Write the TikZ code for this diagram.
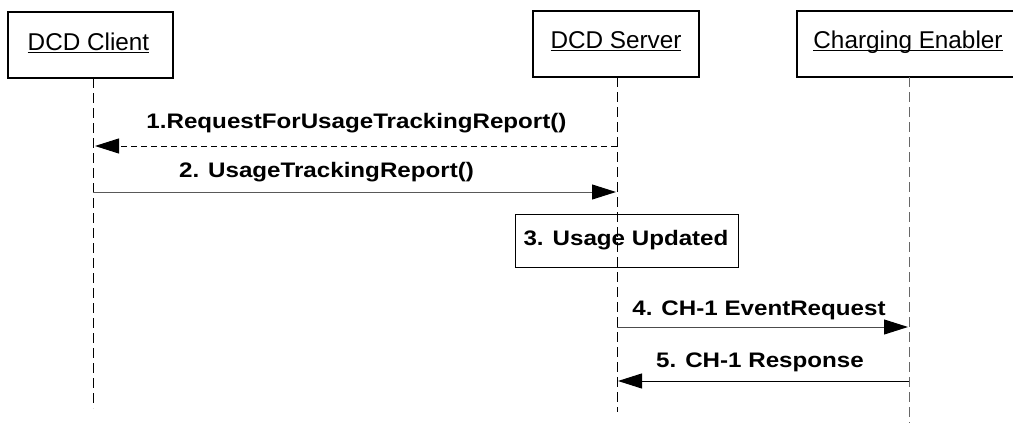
\documentclass[tikz,border=0pt]{standalone}
\usepackage{fontspec}
\setmainfont{Liberation Sans}
\newfontfamily\lblfont[FakeStretch=1.15]{Liberation Sans}
\usetikzlibrary{arrows.meta}
\newcommand\hdrul[1]{\setbox0\hbox{#1}\rlap{\rule[-3pt]{\wd0}{1.3pt}}\box0}
\tikzset{
  hdrbox/.style={draw, line width=1.5pt, minimum width=#1, minimum height=66pt, inner sep=0pt},
  hdrtxt/.style={anchor=base, inner sep=0pt, font=\fontsize{24.3}{28}\selectfont},
  lifeline/.style={draw, line width=1pt, dash pattern=on 10pt off 5pt},
  msg/.style={draw, line width=1pt, -{Triangle[length=24pt,width=15pt,color=black]}},
  dmsg/.style={msg, dash pattern=on 6pt off 4pt},
  lbl/.style={anchor=base, inner sep=0pt, font=\lblfont\bfseries\fontsize{21}{25}\selectfont},
  actbox/.style={draw, line width=1pt, minimum width=223pt, minimum height=53pt, inner sep=0pt}
}
\begin{document}
\begin{tikzpicture}[x=1pt,y=-1pt]
\clip (0,0) rectangle (1013,423);
\fill[white] (0,0) rectangle (1013,423);
% headers
\node[hdrbox=165pt] (cbox) at (90.5,45) {};
\node[hdrbox=166pt] (sbox) at (616,44) {};
\node[hdrbox=224pt] (ebox) at (909,44) {};
\node[hdrtxt] (ctxt) at (88.5,50) {\hdrul{DCD Client}};
\node[hdrtxt] (stxt) at (616,48) {\hdrul{DCD Server}};
\node[hdrtxt] (etxt) at (908,48) {\hdrul{Charging Enabler}};
% lifeline ends
\coordinate (cend) at (93,408);
\coordinate (send) at (617,412);
\coordinate (eend) at (909,423);
\coordinate (ctop) at (93,78);
\coordinate (stop) at (617,77);
\coordinate (etop) at (909,77);
% activity box
\node[actbox] (act) at (626.5,240.5) {};
\node[lbl] (acttxt) at (626,245) {3. Usage Updated};
\draw[lifeline] (ctop) -- (cend);
\draw[lifeline] (stop) -- (send);
\draw[lifeline, draw=black!60] (etop) -- (eend);
% message points
\coordinate (s1) at (617,146);
\coordinate (c1) at (95,146);
\coordinate (c2) at (93,192);
\coordinate (s2) at (616,192);
\coordinate (s4) at (617,327);
\coordinate (e4) at (908,327);
\coordinate (e5) at (909,381);
\coordinate (s5) at (618,381);
\draw[dmsg] (s1) -- (c1);
\draw[msg, draw=black!65] (c2) -- (s2);
\draw[msg, draw=black!70] (s4) -- (e4);
\draw[msg] (e5) -- (s5);
% labels
\node[lbl] (l1) at (356.5,128) {1.RequestForUsageTrackingReport()};
\node[lbl] (l2) at (326.5,177) {2. UsageTrackingReport()};
\node[lbl] (l4) at (759,315) {4. CH-1 EventRequest};
\node[lbl] (l5) at (760,367) {5. CH-1 Response};
\end{tikzpicture}
\end{document}
